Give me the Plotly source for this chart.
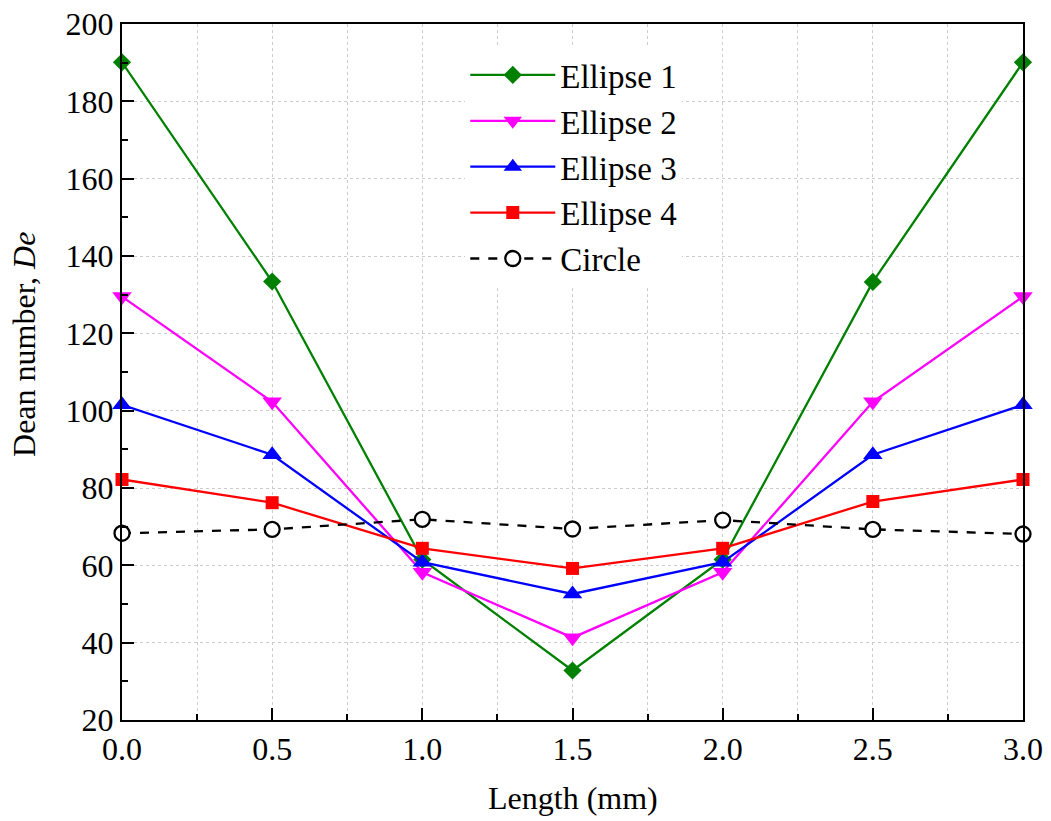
import plotly.graph_objects as go

length_mm = [0.0, 0.5, 1.0, 1.5, 2.0, 2.5, 3.0]
ellipse_1 = [190.1, 133.4, 61.5, 32.8, 61.5, 133.3, 190.1]
ellipse_2 = [129.5, 102.3, 58.2, 41.3, 58.2, 102.3, 129.5]
ellipse_3 = [101.5, 88.6, 60.8, 52.6, 60.8, 88.6, 101.5]
ellipse_4 = [82.2, 76.2, 64.4, 59.2, 64.4, 76.5, 82.2]
circle = [68.3, 69.3, 71.9, 69.4, 71.7, 69.3, 68.1]

font_family = "Liberation Serif, Times New Roman, serif"

fig = go.Figure()

series = [
    ("Ellipse 1", ellipse_1, "#008000", "diamond", 14),
    ("Ellipse 2", ellipse_2, "#ff00ff", "triangle-down", 17),
    ("Ellipse 3", ellipse_3, "#0000ff", "triangle-up", 17),
    ("Ellipse 4", ellipse_4, "#ff0000", "square", 13),
]
for name, vals, col, sym, sz in series:
    fig.add_trace(go.Scatter(
        x=length_mm, y=vals, name=name, mode="lines+markers",
        line=dict(color=col, width=2.3),
        marker=dict(symbol=sym, size=sz, color=col, line=dict(width=0)),
        cliponaxis=False,
    ))

fig.add_trace(go.Scatter(
    x=length_mm, y=circle, name="Circle", mode="lines+markers",
    line=dict(color="black", width=2.3, dash="dash"),
    marker=dict(symbol="circle", size=15, color="white",
                line=dict(color="black", width=2.3)),
    cliponaxis=False,
))

fig.update_xaxes(
    range=[0, 3], dtick=0.5, tickformat=".1f", automargin=False,
    ticklabeloverflow="allow",
    showline=True, linecolor="black", linewidth=2, mirror=True,
    ticks="inside", ticklen=12, tickwidth=2, tickcolor="black",
    showgrid=True, gridcolor="#cccccc", griddash="dot", gridwidth=1,
    zeroline=False,
    minor=dict(dtick=0.25, ticks="inside", ticklen=6, tickwidth=2,
               tickcolor="black", showgrid=True, gridcolor="#cccccc",
               griddash="dot", gridwidth=1),
    tickfont=dict(size=32),
)
fig.update_yaxes(
    range=[20, 200], dtick=20, automargin=False,
    ticklabeloverflow="allow",
    showline=True, linecolor="black", linewidth=2, mirror=True,
    ticks="inside", ticklen=12, tickwidth=2, tickcolor="black",
    showgrid=True, gridcolor="#cccccc", griddash="dot", gridwidth=1,
    zeroline=False,
    minor=dict(dtick=10, ticks="inside", ticklen=6, tickwidth=2,
               tickcolor="black", showgrid=False),
    tickfont=dict(size=32),
)

fig.add_annotation(text="Length (mm)", xref="paper", yref="paper",
                   x=0.5, y=-0.112, xanchor="center", yanchor="middle",
                   showarrow=False, font=dict(size=32))
fig.add_annotation(text="Dean number, <i>De</i>", xref="paper", yref="paper",
                   x=-0.109, y=0.54, xanchor="center", yanchor="middle",
                   textangle=-90, showarrow=False, font=dict(size=32))

fig.update_layout(
    width=1051, height=821,
    margin=dict(l=122, r=28, t=24, b=101),
    plot_bgcolor="white", paper_bgcolor="white",
    font=dict(family=font_family, color="black"),
    legend=dict(x=0.381, y=0.967, xanchor="left", yanchor="top",
                bgcolor="white", font=dict(size=33),
                tracegroupgap=0, itemwidth=85),
    showlegend=True,
)

# drop the default page margin so the figure fills the window
fig.write_html("out.html", config={"displayModeBar": False},
               post_script="document.body.style.margin = '0';")
